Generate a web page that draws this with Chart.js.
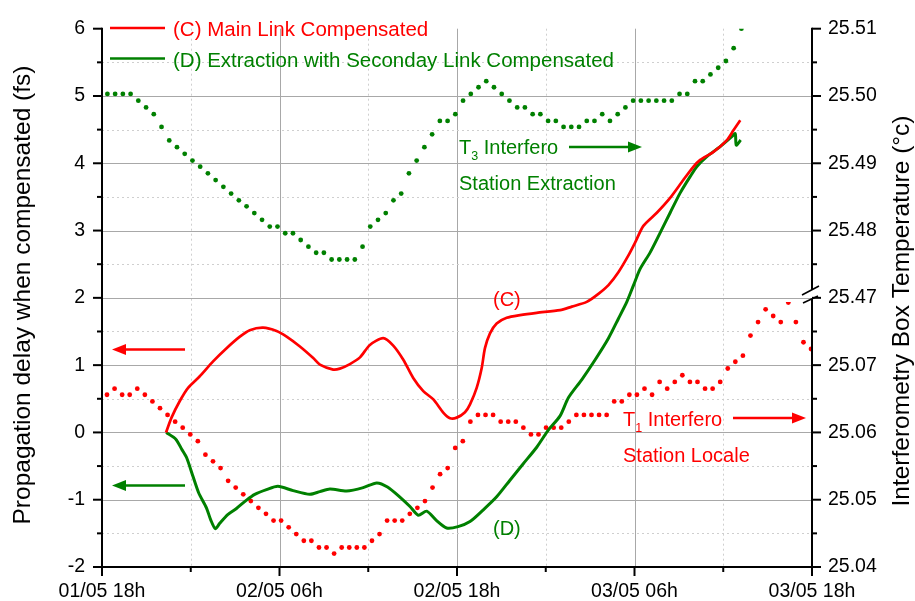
<!DOCTYPE html>
<html>
<head>
<meta charset="utf-8">
<title>Propagation delay and box temperature</title>
<script src="https://cdn.jsdelivr.net/npm/chart.js@4.4.1/dist/chart.umd.min.js"></script>
<style>
  html, body { margin: 0; padding: 0; background: #fff; }
  #wrap { width: 915px; height: 601px; }
</style>
</head>
<body>
<div id="wrap"><canvas id="delayChart" width="915" height="601"></canvas></div>
<script>
// ---------------------------------------------------------------
// Data (time in hours from 01/05 18h)
// ---------------------------------------------------------------
const timeTickHours = [0, 12, 24, 36, 48];
const timeLabels = ["01/05 18h", "02/05 06h", "02/05 18h", "03/05 06h", "03/05 18h"];

// (C) main link compensated, delay in fs
const mainLinkHours = [4.33, 4.70, 5.26, 5.82, 6.61, 7.51, 8.42, 9.32, 9.99, 10.89,
  11.80, 12.48, 13.38, 14.28, 14.73, 15.63, 16.08, 16.76, 17.44, 18.11,
  19.01, 19.69, 20.37, 21.04, 21.72, 22.40, 23.07, 23.53, 23.98, 24.54,
  24.88, 25.33, 25.67, 25.89, 26.23, 26.68, 27.36, 28.26, 29.39, 30.97,
  31.76, 32.77, 33.56, 34.24, 34.91, 35.59, 36.04, 36.60, 37.51, 38.41,
  39.31, 39.99, 40.44, 41.34, 42.25, 42.69, 43.15];
const mainLinkDelay = [0, 0.22, 0.467, 0.663, 0.835, 1.056, 1.252, 1.424, 1.52, 1.557,
  1.508, 1.424, 1.277, 1.105, 1.007, 0.934, 0.948, 1.016, 1.115, 1.30,
  1.40, 1.29, 1.08, 0.81, 0.614, 0.49, 0.295, 0.212, 0.22, 0.30,
  0.418, 0.663, 0.957, 1.252, 1.473, 1.62, 1.704, 1.744, 1.778, 1.817,
  1.87, 1.94, 2.06, 2.19, 2.38, 2.63, 2.82, 3.07, 3.265, 3.486,
  3.755, 3.95, 4.05, 4.17, 4.345, 4.49, 4.64];

// (D) extraction with secondary link compensated, delay in fs
const extractionHours = [4.34, 4.99, 5.39, 5.73, 6.16, 6.54, 7.06, 7.35, 7.66, 7.96,
  8.50, 9.09, 9.77, 10.33, 11.12, 11.89, 12.92, 14.05, 14.73, 15.41,
  16.54, 17.66, 18.57, 19.30, 20.14, 20.82, 21.38, 21.95, 22.62, 23.30,
  24.07, 24.88, 25.78, 26.68, 27.58, 28.48, 29.39, 30.16, 30.97, 31.53,
  32.44, 33.34, 34.24, 34.91, 35.48, 35.93, 36.38, 37.06, 37.74, 38.41,
  39.09, 39.77, 40.22, 40.89, 41.79, 42.58, 42.81, 42.88, 43.18];
const extractionDelay = [0, -0.10, -0.25, -0.38, -0.66, -0.90, -1.12, -1.30, -1.43, -1.35,
  -1.22, -1.13, -1.006, -0.92, -0.85, -0.80, -0.865, -0.92, -0.88, -0.84,
  -0.87, -0.82, -0.75, -0.81, -0.96, -1.10, -1.23, -1.17, -1.31, -1.42,
  -1.40, -1.325, -1.15, -0.957, -0.71, -0.465, -0.22, 0.03, 0.246, 0.515,
  0.786, 1.08, 1.40, 1.69, 1.94, 2.185, 2.43, 2.676, 2.97, 3.265,
  3.56, 3.805, 3.953, 4.10, 4.247, 4.395, 4.44, 4.27, 4.345];

// T3 box temperature, extraction station (°C), logged every ~31 min
const t3StartHour = 0.365;
const t3StepHour = 0.5227;
const t3Temp = [25.5003, 25.5003, 25.5003, 25.5003, 25.4993, 25.4983, 25.4973, 25.4954, 25.4934, 25.4924,
  25.4914, 25.4904, 25.4895, 25.4885, 25.4875, 25.4865, 25.4855, 25.4845, 25.4836, 25.4826,
  25.4816, 25.4806, 25.4806, 25.4796, 25.4796, 25.4786, 25.4776, 25.4767, 25.4767, 25.4757,
  25.4757, 25.4757, 25.4757, 25.4776, 25.4806, 25.4816, 25.4826, 25.4845, 25.4855, 25.4885,
  25.4904, 25.4924, 25.4943, 25.4963, 25.4963, 25.4973, 25.4993, 25.5003, 25.5013, 25.5022,
  25.5013, 25.5003, 25.4993, 25.4983, 25.4983, 25.4973, 25.4973, 25.4963, 25.4963, 25.4954,
  25.4954, 25.4954, 25.4963, 25.4963, 25.4973, 25.4963, 25.4973, 25.4983, 25.4993, 25.4993,
  25.4993, 25.4993, 25.4993, 25.4993, 25.5003, 25.5003, 25.5022, 25.5022, 25.5032, 25.5042,
  25.5052, 25.5071, 25.5100];

// T1 box temperature, local station (°C), logged every ~31 min
const t1StartHour = 0.338;
const t1StepHour = 0.5118;
const t1Temp = [25.0656, 25.0665, 25.0656, 25.0656, 25.0665, 25.0656, 25.0646, 25.0636, 25.0626, 25.0616,
  25.0607, 25.0597, 25.0587, 25.0567, 25.0557, 25.0547, 25.0528, 25.0518, 25.0508, 25.0498,
  25.0488, 25.0479, 25.0469, 25.0469, 25.0459, 25.0449, 25.0439, 25.0439, 25.0429, 25.0429,
  25.0420, 25.0429, 25.0429, 25.0429, 25.0429, 25.0439, 25.0449, 25.0469, 25.0469, 25.0469,
  25.0479, 25.0488, 25.0498, 25.0518, 25.0538, 25.0547, 25.0577, 25.0587, 25.0616, 25.0626,
  25.0626, 25.0626, 25.0616, 25.0616, 25.0616, 25.0607, 25.0597, 25.0597, 25.0607, 25.0607,
  25.0607, 25.0616, 25.0626, 25.0626, 25.0626, 25.0626, 25.0626, 25.0646, 25.0646, 25.0656,
  25.0656, 25.0665, 25.0656, 25.0675, 25.0665, 25.0675, 25.0685, 25.0675, 25.0675, 25.0665,
  25.0665, 25.0675, 25.0695, 25.0705, 25.0714, 25.0744, 25.0764, 25.0783, 25.0773, 25.0764,
  25.0793, 25.0764, 25.0734, 25.0724];

// right axis is broken: 25.04..25.08 on the lower part, 25.47..25.51 on the upper part
const rightTickTemps = [25.04, 25.05, 25.06, 25.07, 25.47, 25.48, 25.49, 25.50, 25.51];
const rightTickLabels = ["25.04", "25.05", "25.06", "25.07", "25.47", "25.48", "25.49", "25.50", "25.51"];
const lowerSegmentTop = 25.0794;

// temperature -> left axis units (1 fs == 0.01 °C)
function tempToAxis(t) {
  return t > 25.3 ? 2 + (t - 25.47) * 100 : (t - 25.06) * 100;
}

const RED = "#ff0000";
const GREEN = "#008000";
const FONT = "'Liberation Sans', Arial, Helvetica, sans-serif";

const mainLinkPoints = mainLinkHours.map((h, i) => ({ x: h, y: mainLinkDelay[i] }));
const extractionPoints = extractionHours.map((h, i) => ({ x: h, y: extractionDelay[i] }));
const t3Points = t3Temp.map((t, i) => ({ x: t3StartHour + i * t3StepHour, y: tempToAxis(t) }));
const t1Points = t1Temp.map((t, i) => ({ x: t1StartHour + i * t1StepHour, y: tempToAxis(t) }));

// ---------------------------------------------------------------
// Helpers for the overlay
// ---------------------------------------------------------------
function hLine(ctx, x1, x2, y) {
  ctx.beginPath(); ctx.moveTo(x1, y); ctx.lineTo(x2, y); ctx.stroke();
}
function vLine(ctx, x, y1, y2) {
  ctx.beginPath(); ctx.moveTo(x, y1); ctx.lineTo(x, y2); ctx.stroke();
}
function arrow(ctx, x1, x2, y, color) {
  const dir = x2 > x1 ? 1 : -1;
  ctx.strokeStyle = color;
  ctx.fillStyle = color;
  ctx.lineWidth = 2.6;
  hLine(ctx, x1, x2 - dir * 10, y);
  ctx.beginPath();
  ctx.moveTo(x2, y);
  ctx.lineTo(x2 - dir * 14, y - 5.5);
  ctx.lineTo(x2 - dir * 14, y + 5.5);
  ctx.closePath();
  ctx.fill();
}
function labelWithSub(ctx, x, y, main, sub, rest, color) {
  ctx.fillStyle = color;
  ctx.textAlign = "left";
  ctx.textBaseline = "alphabetic";
  ctx.font = "20px " + FONT;
  ctx.fillText(main, x, y);
  let cx = x + ctx.measureText(main).width;
  ctx.font = "12.5px " + FONT;
  ctx.fillText(sub, cx, y + 6);
  cx += ctx.measureText(sub).width;
  ctx.font = "20px " + FONT;
  ctx.fillText(rest, cx, y);
}

const overlay = {
  id: "overlay",
  beforeDatasetsDraw(chart) {
    const { ctx, chartArea: a, scales: { x, y } } = chart;
    ctx.save();
    ctx.lineWidth = 1;
    // vertical grid, every 6 h
    for (let h = 6; h < 48; h += 6) {
      const px = Math.round(x.getPixelForValue(h)) + 0.5;
      if (h % 12 === 0) {
        ctx.strokeStyle = "#a8a8a8";
        ctx.setLineDash([]);
      } else {
        ctx.strokeStyle = "#cfcfcf";
        ctx.setLineDash([2, 3]);
      }
      vLine(ctx, px, a.top, a.bottom);
    }
    // horizontal grid, every 0.5 fs
    for (let v = -1.5; v < 6; v += 0.5) {
      const py = Math.round(y.getPixelForValue(v)) + 0.5;
      if (Number.isInteger(v)) {
        ctx.strokeStyle = "#a8a8a8";
        ctx.setLineDash([]);
      } else {
        ctx.strokeStyle = "#cfcfcf";
        ctx.setLineDash([2, 3]);
      }
      hLine(ctx, a.left, a.right, py);
    }
    ctx.restore();
  },
  beforeDatasetDraw(chart, args) {
    // the lower part of the broken right axis stops below the break
    if (args.meta.label !== "T1") return;
    const { ctx, chartArea: a } = chart;
    const top = chart.scales.y.getPixelForValue(tempToAxis(lowerSegmentTop));
    ctx.save();
    ctx.beginPath();
    ctx.rect(a.left, top, a.right - a.left, a.bottom - top);
    ctx.clip();
  },
  afterDatasetDraw(chart, args) {
    if (args.meta.label !== "T1") return;
    chart.ctx.restore();
  },
  afterDatasetsDraw(chart) {
    const { ctx, chartArea: a, scales: { x, y } } = chart;
    ctx.save();
    ctx.strokeStyle = "#000";
    ctx.lineWidth = 2;
    ctx.setLineDash([]);

    // axis lines
    const breakTop = 290, breakBottom = 299;
    vLine(ctx, a.left, a.top - 1, a.bottom + 1);
    vLine(ctx, a.right, a.top - 1, breakTop);
    vLine(ctx, a.right, breakBottom, a.bottom + 1);
    hLine(ctx, a.left - 1, a.right + 1, a.bottom);

    // tick marks on both value axes
    for (let v = -2; v <= 6; v += 0.5) {
      const py = y.getPixelForValue(v);
      const len = Number.isInteger(v) ? 9 : 5;
      hLine(ctx, a.left - len, a.left, py);
      hLine(ctx, a.right, a.right + len, py);
    }
    // tick marks on the time axis
    for (let h = 0; h <= 48; h += 6) {
      const px = x.getPixelForValue(h);
      vLine(ctx, px, a.bottom, a.bottom + (h % 12 === 0 ? 9 : 5));
    }

    // break marks on the right axis
    ctx.lineWidth = 1.6;
    ctx.beginPath();
    ctx.moveTo(a.right - 10, breakTop + 5); ctx.lineTo(a.right + 7, breakTop - 4);
    ctx.moveTo(a.right - 9, breakBottom + 4); ctx.lineTo(a.right + 6, breakBottom - 3);
    ctx.stroke();

    // legend
    ctx.lineWidth = 2.6;
    ctx.strokeStyle = RED;
    hLine(ctx, 110, 165, 28);
    ctx.strokeStyle = GREEN;
    hLine(ctx, 110, 165, 58.5);
    ctx.font = "20.5px " + FONT;
    ctx.textAlign = "left";
    ctx.textBaseline = "alphabetic";
    ctx.fillStyle = RED;
    ctx.fillText("(C) Main Link Compensated", 173, 36);
    ctx.fillStyle = GREEN;
    ctx.fillText("(D) Extraction with Seconday Link Compensated", 173, 67);

    // curve labels
    ctx.font = "20px " + FONT;
    ctx.fillStyle = RED;
    ctx.fillText("(C)", 493, 306);
    ctx.fillStyle = GREEN;
    ctx.fillText("(D)", 493, 535);

    // temperature annotations
    labelWithSub(ctx, 459, 154, "T", "3", " Interfero", GREEN);
    ctx.font = "20px " + FONT;
    ctx.fillText("Station Extraction", 459, 190);
    arrow(ctx, 569, 642, 147, GREEN);

    labelWithSub(ctx, 623, 425.5, "T", "1", " Interfero", RED);
    ctx.font = "20px " + FONT;
    ctx.fillText("Station Locale", 623, 461.5);
    arrow(ctx, 733, 806, 418, RED);

    // arrows pointing to the delay axis
    arrow(ctx, 185, 112, 349.5, RED);
    arrow(ctx, 185, 112, 485.5, GREEN);

    // axis titles
    ctx.fillStyle = "#000";
    ctx.font = "24.5px " + FONT;
    ctx.textAlign = "center";
    ctx.textBaseline = "middle";
    ctx.save();
    ctx.translate(23, 295);
    ctx.rotate(-Math.PI / 2);
    ctx.fillText("Propagation delay when compensated (fs)", 0, 0);
    ctx.restore();
    ctx.save();
    ctx.translate(902, 311);
    ctx.rotate(-Math.PI / 2);
    ctx.fillText("Interferometry Box Temperature (°c)", 0, 0);
    ctx.restore();

    ctx.restore();
  }
};

// ---------------------------------------------------------------
// Chart
// ---------------------------------------------------------------
const tickFont = { family: FONT, size: 19.5 };

const canvas = document.getElementById("delayChart");
const delayChart = new Chart(canvas.getContext("2d"), {
  type: "line",
  data: {
    datasets: [
      {
        label: "(C) Main Link Compensated",
        data: mainLinkPoints,
        borderColor: RED,
        borderWidth: 2.7,
        pointRadius: 0,
        tension: 0.25,
        yAxisID: "y"
      },
      {
        label: "(D) Extraction with Seconday Link Compensated",
        data: extractionPoints,
        borderColor: GREEN,
        borderWidth: 3,
        pointRadius: 0,
        tension: 0.25,
        yAxisID: "y"
      },
      {
        label: "T3",
        data: t3Points,
        showLine: false,
        pointRadius: 2.4,
        pointBorderWidth: 0,
        pointBackgroundColor: GREEN,
        clip: 0,
        yAxisID: "y"
      },
      {
        label: "T1",
        data: t1Points,
        showLine: false,
        pointRadius: 2.4,
        pointBorderWidth: 0,
        pointBackgroundColor: RED,
        clip: 0,
        yAxisID: "y"
      }
    ]
  },
  options: {
    responsive: false,
    animation: false,
    events: [],
    layout: { padding: { top: 24, left: 0, right: 0, bottom: 0 } },
    plugins: {
      legend: { display: false },
      tooltip: { enabled: false }
    },
    scales: {
      x: {
        type: "linear",
        min: 0,
        max: 48,
        afterBuildTicks: (scale) => {
          scale.ticks = timeTickHours.map(v => ({ value: v }));
        },
        afterFit: (scale) => { scale.height = 34; },
        ticks: {
          callback: (value) => timeLabels[timeTickHours.indexOf(value)],
          font: tickFont,
          color: "#000",
          padding: 13,
          maxRotation: 0,
          autoSkip: false
        },
        grid: { display: false, drawTicks: false },
        border: { display: false }
      },
      y: {
        position: "left",
        min: -2,
        max: 6,
        afterFit: (scale) => { scale.width = 102; },
        ticks: { stepSize: 1, font: tickFont, color: "#000", padding: 17 },
        grid: { display: false, drawTicks: false },
        border: { display: false }
      },
      y2: {
        position: "right",
        min: -2,
        max: 6,
        afterBuildTicks: (scale) => {
          scale.ticks = rightTickTemps.map(t => ({ value: tempToAxis(t) }));
        },
        afterFit: (scale) => { scale.width = 103; },
        ticks: {
          callback: (value, index) => rightTickLabels[index],
          font: tickFont,
          color: "#000",
          padding: 16
        },
        grid: { display: false, drawTicks: false },
        border: { display: false }
      }
    }
  },
  plugins: [overlay]
});
</script>
</body>
</html>
